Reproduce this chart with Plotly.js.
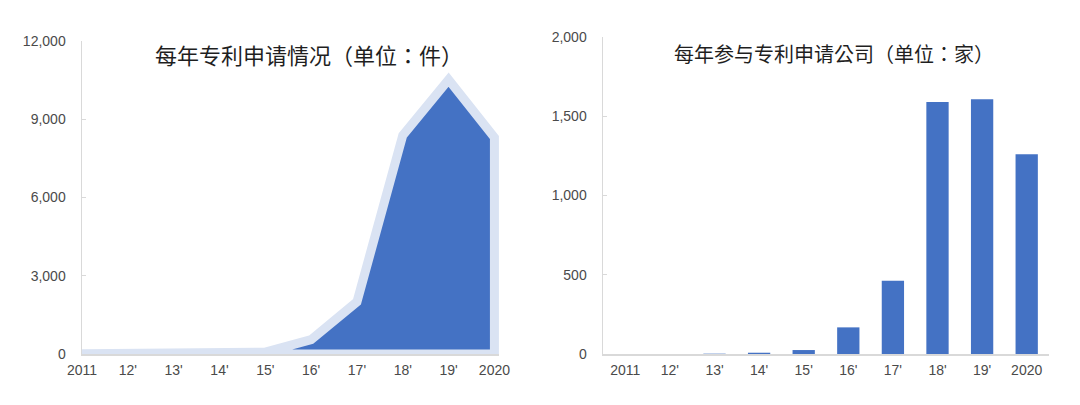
<!DOCTYPE html>
<html>
<head>
<meta charset="utf-8">
<script src="https://cdn.plot.ly/plotly-3.0.1.min.js"></script>
<style>
html,body{margin:0;padding:0;background:#fff;}
#chart{width:1080px;height:405px;}
#chart text{text-spacing-trim: space-all;}
</style>
</head>
<body>
<div id="chart"></div>
<script>
// Data
const yearLabels = ["2011", "12'", "13'", "14'", "15'", "16'", "17'", "18'", "19'", "2020"];
const patentsPerYear = [10, 15, 25, 40, 70, 550, 2000, 8380, 10520, 8300];
const companiesPerYear = [0, 0, 2, 8, 25, 168, 462, 1590, 1607, 1260];
const leftTitle = "每年专利申请情况（单位：件）";
const rightTitle = "每年参与专利申请公司（单位：家）";

const W = 1080, H = 405;
const px = v => v / W;
const py = v => (H - v) / H;

// closed polygon built from the data (baseline back to the first category)
const areaX = yearLabels.concat([yearLabels[yearLabels.length - 1], yearLabels[0]]);
const areaY = patentsPerYear.concat([0, 0]);

const tickFont = {family: "Liberation Sans, Arial, sans-serif", size: 14, color: "#4a4a4a"};
const titleFont = {family: "Noto Sans CJK TC, Noto Sans CJK SC, sans-serif", color: "#1f1f1f"};

const traces = [
  {
    type: "scatter", mode: "lines", x: areaX, y: areaY,
    xaxis: "x", yaxis: "y",
    fill: "toself", fillcolor: "#4472C4",
    line: {color: "#DAE3F3", width: 9},
    hoverinfo: "skip", showlegend: false
  },
  {
    type: "bar", x: yearLabels, y: companiesPerYear,
    xaxis: "x2", yaxis: "y2",
    marker: {color: "#4472C4", line: {width: 0}},
    showlegend: false
  }
];

const axisCommon = {
  showgrid: false, zeroline: false, showline: true, linecolor: "#D9D9D9", linewidth: 1.5,
  tickfont: tickFont, fixedrange: true
};

const layout = {
  width: W, height: H,
  margin: {l: 0, r: 0, t: 0, b: 0},
  paper_bgcolor: "#fff", plot_bgcolor: "#fff",
  showlegend: false,
  bargap: 0.5,
  xaxis: Object.assign({}, axisCommon, {
    domain: [px(82), px(499)], type: "category",
    categoryorder: "array", categoryarray: yearLabels,
    range: [0, 9.1], ticks: "", anchor: "y", ticklabelstandoff: 3
  }),
  yaxis: Object.assign({}, axisCommon, {
    domain: [py(354), py(41)], range: [0, 12000], dtick: 3000, tickformat: ",",
    ticks: "inside", ticklen: 4, tickcolor: "#D9D9D9", anchor: "x", ticklabelstandoff: 12
  }),
  xaxis2: Object.assign({}, axisCommon, {
    domain: [px(603), px(1049)], type: "category",
    categoryorder: "array", categoryarray: yearLabels,
    range: [-0.5, 9.5], ticks: "", anchor: "y2", ticklabelstandoff: 3
  }),
  yaxis2: Object.assign({}, axisCommon, {
    domain: [py(354), py(37)], range: [0, 2000], dtick: 500, tickformat: ",",
    ticks: "inside", ticklen: 4, tickcolor: "#D9D9D9", anchor: "x2", ticklabelstandoff: 12
  }),
  annotations: [
    {text: leftTitle, xref: "paper", yref: "paper", x: px(309), y: py(54),
     xanchor: "center", yanchor: "middle", showarrow: false,
     font: Object.assign({size: 22}, titleFont)},
    {text: rightTitle, xref: "paper", yref: "paper", x: px(834), y: py(53),
     xanchor: "center", yanchor: "middle", showarrow: false,
     font: Object.assign({size: 20}, titleFont)}
  ]
};

Plotly.newPlot("chart", traces, layout, {displayModeBar: false, staticPlot: true});
</script>
</body>
</html>
